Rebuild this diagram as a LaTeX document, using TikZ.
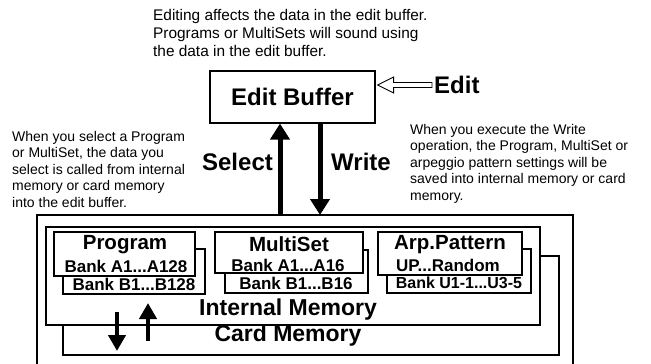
\documentclass[tikz,border=0pt]{standalone}
\usepackage{fontspec}
\setmainfont{Liberation Sans}
\usetikzlibrary{arrows.meta,calc}

\begin{document}
\begin{tikzpicture}[x=1pt, y=-1pt,
        box/.style={draw, fill=white, line width=1.1pt, inner sep=0pt},
        note/.style={align=left, inner sep=0pt, anchor=north west, font=\fontsize{14}{16.5}\selectfont},
        big/.style={inner sep=0pt, font=\fontsize{24}{28}\selectfont\bfseries},
        title/.style={inner sep=0pt, font=\fontsize{20.5}{24}\selectfont\bfseries},
        bank/.style={inner sep=0pt, font=\fontsize{17}{20}\selectfont\bfseries},
        mem/.style={inner sep=0pt, font=\fontsize{23}{26}\selectfont\bfseries},
        fat/.style={line width=5pt, -{Triangle[width=19pt,length=16pt]}},
        slim/.style={line width=4.5pt, -{Triangle[width=17pt,length=16pt]}}]
        \useasboundingbox (0,0) rectangle (651,364);
        % notes
        \node[note, font=\fontsize{15.4}{18.3}\selectfont] (topnote) at (153,9) {Editing affects the data in the edit buffer.\\Programs or MultiSets will sound using\\the data in the edit buffer.};
        \node[note] (selnote) at (12,131) {When you select a Program\\or MultiSet, the data you\\select is called from internal\\memory or card memory\\into the edit buffer.};
        \node[note] (wrnote) at (410,124) {When you execute the Write\\operation, the Program, MultiSet or\\arpeggio pattern settings will be\\saved into internal memory or card\\memory.};
        % edit buffer
        \node[box, big, minimum width=165pt, minimum height=52pt] (buf) at (292.5,97) {Edit Buffer};
        \node[big, anchor=west] (edit) at (434,85) {Edit};
        \draw[line width=0.9pt, fill=white] ($(buf.east |- edit.west)+(2,0)$) -- ++(16,-8) -- ++(0,5.5)
            -- ($(edit.west)+(-2,-2.5)$) -- ($(edit.west)+(-2,2.5)$) -- ($(buf.east |- edit.west)+(18,2.5)$)
            -- ++(0,5.5) -- cycle;
        % outer frame
        \draw[line width=1.1pt] (37,364) |- (573,215) -- (573,364);
        \coordinate (selfoot) at (280,215);
        \coordinate (wrfoot) at (320,215);
        \draw[fat] (selfoot) -- (buf.south -| selfoot);
        \draw[fat] (buf.south -| wrfoot) -- (wrfoot);
        \node[big] (sel) at (237.5,162) {Select};
        \node[big] (wr) at (361,162) {Write};
        % memories
        \node[box, minimum width=496pt, minimum height=99pt] (card) at (311,305.5) {};
        \node[box, line width=1.4pt, minimum width=494pt, minimum height=98pt] (intmem) at (293,276) {};
        \node[box, minimum width=142pt, minimum height=45pt] (progB) at (134,271.5) {};
        \node[box, minimum width=141pt, minimum height=44pt] (progA) at (124.5,254) {};
        \node[box, minimum width=143pt, minimum height=43pt] (msetB) at (296.5,271.5) {};
        \node[box, minimum width=148pt, minimum height=41pt] (msetA) at (289,252.5) {};
        \node[box, minimum width=144pt, minimum height=44pt] (arpB) at (459,271) {};
        \node[box, minimum width=144pt, minimum height=43pt] (arpA) at (450,253.5) {};
        \node[title] (progT) at (125,245) {Program};
        \node[bank] (progA1) at (126,266) {Bank A1...A128};
        \node[bank] (progB1) at (134,284) {Bank B1...B128};
        \node[title] (msetT) at (289,244) {MultiSet};
        \node[bank] (msetA1) at (288,265) {Bank A1...A16};
        \node[bank] (msetB1) at (296,283) {Bank B1...B16};
        \node[title] (arpT) at (450,245) {Arp.Pattern};
        \node[bank] (arpA1) at (448,265) {UP...Random};
        \node[bank, font=\fontsize{16}{19}\selectfont\bfseries] (arpB1) at (459,283) {Bank U1-1...U3-5};
        \node[mem] (intT) at (288,310) {Internal Memory};
        \node[mem] (cardT) at (288,336) {Card Memory};
        % save / load between memories
        \coordinate (dn0) at (117,312); \coordinate (dn1) at (117,351);
        \coordinate (up0) at (148,341); \coordinate (up1) at (148,303);
        \draw[slim] (dn0) -- (dn1);
        \draw[slim] (up0) -- (up1);
\end{tikzpicture}
\end{document}
